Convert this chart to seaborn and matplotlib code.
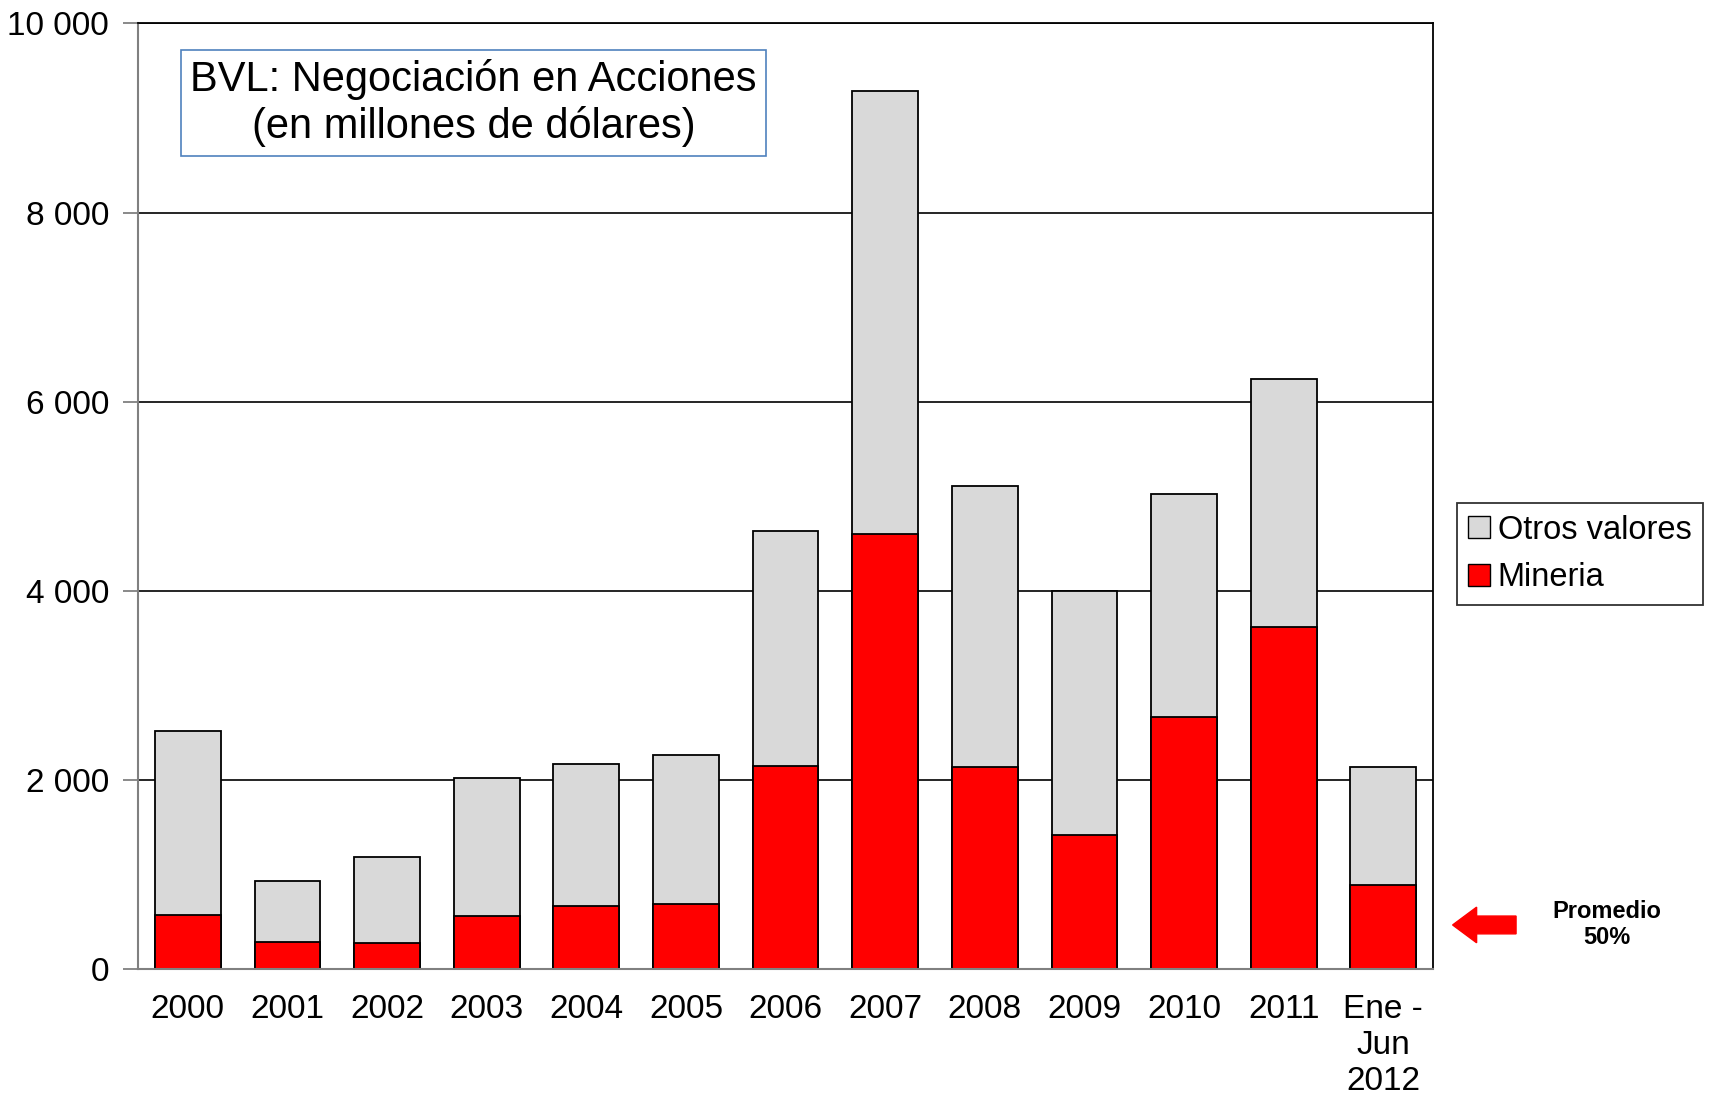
import matplotlib
matplotlib.use("Agg")
import matplotlib.pyplot as plt
import pandas as pd
import seaborn as sns
from matplotlib.patches import Patch, FancyArrow
from matplotlib.ticker import FuncFormatter

periodos = ["2000", "2001", "2002", "2003", "2004", "2005", "2006",
            "2007", "2008", "2009", "2010", "2011", "Ene -\nJun\n2012"]
mineria = [578, 289, 277, 566, 670, 694, 2150, 4601, 2139, 1422, 2670, 3618, 890]
otros = [1942, 647, 914, 1457, 1503, 1572, 2486, 4682, 2971, 2578, 2359, 2625, 1249]

ROJO = "#FF0000"
GRIS = "#D9D9D9"


def main() -> None:
    sns.set_theme(style="white")
    plt.rcParams["font.family"] = ["Liberation Sans", "DejaVu Sans"]
    plt.rcParams["text.color"] = "black"
    plt.rcParams["xtick.labelcolor"] = "black"
    plt.rcParams["ytick.labelcolor"] = "black"

    df = pd.DataFrame({"periodo": periodos, "mineria": mineria, "otros": otros})
    df["total"] = df["mineria"] + df["otros"]

    fig, ax = plt.subplots(figsize=(17.15, 11.14), dpi=100)
    fig.subplots_adjust(left=0.0805, right=0.8356, top=0.979, bottom=0.130)

    ax.yaxis.grid(True, color="black", linewidth=1.2)
    ax.set_axisbelow(True)

    sns.barplot(data=df, x="periodo", y="total", color=GRIS, width=0.66,
                edgecolor="black", linewidth=1.3, saturation=1, ax=ax)
    sns.barplot(data=df, x="periodo", y="mineria", color=ROJO, width=0.66,
                edgecolor="black", linewidth=1.3, saturation=1, ax=ax)

    ax.set_ylim(0, 10000)
    ax.set_xlim(-0.5, len(periodos) - 0.5)
    ax.set_yticks(range(0, 10001, 2000))
    ax.yaxis.set_major_formatter(FuncFormatter(lambda v, _: f"{int(v):,}".replace(",", " ")))
    ax.set_xlabel("")
    ax.set_ylabel("")

    # ticks del eje x entre categorias
    ax.set_xticks([i + 0.5 for i in range(-1, len(periodos))], minor=True)
    ax.tick_params(axis="x", which="major", length=0, labelsize=24, pad=18)
    ax.tick_params(axis="x", which="minor", length=9, color="#808080", width=1.3)
    ax.tick_params(axis="y", length=11, color="#808080", width=1.3, labelsize=24, pad=10,
                   left=True, direction="out")

    for lado in ["left", "bottom"]:
        ax.spines[lado].set_color("#808080")
        ax.spines[lado].set_linewidth(1.5)
    for lado in ["top", "right"]:
        ax.spines[lado].set_color("black")
        ax.spines[lado].set_linewidth(1.3)

    ax.text(0.259, 0.916, "BVL: Negociación en Acciones\n(en millones de dólares)",
            transform=ax.transAxes, ha="center", va="center", fontsize=30,
            linespacing=1.18,
            bbox=dict(boxstyle="square,pad=0.22", facecolor="white",
                      edgecolor="#4F81BD", linewidth=1.2))

    handles = [Patch(facecolor=GRIS, edgecolor="black", label="Otros valores"),
               Patch(facecolor=ROJO, edgecolor="black", label="Mineria")]
    fig.legend(handles=handles, loc="center left", bbox_to_anchor=(0.8495, 0.5027),
               fontsize=23.5, frameon=True, fancybox=False, edgecolor="black",
               handlelength=0.65, handleheight=0.65, handletextpad=0.25,
               borderpad=0.35, labelspacing=0.5, borderaxespad=0)
    fig.legends[0].get_frame().set_linewidth(1.3)

    # flecha y nota de promedio
    fig.patches.append(FancyArrow(0.884, 0.1697, -0.037, 0.0, width=0.016,
                                  head_width=0.032, head_length=0.014,
                                  length_includes_head=True, color=ROJO,
                                  transform=fig.transFigure, figure=fig))
    fig.text(0.937, 0.170, "Promedio\n50%", ha="center", va="center",
             fontsize=17, fontweight="bold", linespacing=1.15)

    fig.savefig("out.png", dpi=100)
    plt.close(fig)


if __name__ == "__main__":
    main()
